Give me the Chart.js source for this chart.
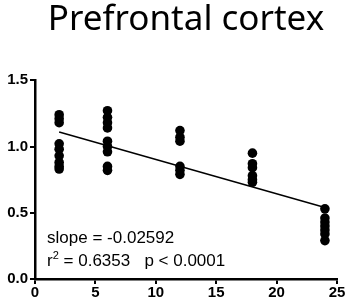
<!DOCTYPE html>
<html>
<head>
<meta charset="utf-8">
<script src="https://cdn.jsdelivr.net/npm/chart.js@4"></script>
<style>
  html, body { margin: 0; padding: 0; background: #fff; }
  #wrap { width: 347px; height: 307px; }
</style>
</head>
<body>
<div id="wrap"><canvas id="myChart" width="347" height="307"></canvas></div>
<script>
// Valores (horas x expressão relativa)
var hours = [2, 6, 12, 18, 24];
var values2h = [1.24, 1.21, 1.18, 1.02, 0.98, 0.93, 0.88, 0.85, 0.83];
var values6h = [1.27, 1.22, 1.18, 1.14, 1.04, 1.00, 0.96, 0.85, 0.82];
var values12h = [1.12, 1.07, 1.04, 0.85, 0.82, 0.79];
var values18h = [0.95, 0.87, 0.84, 0.78, 0.75, 0.73];
var values24h = [0.53, 0.46, 0.43, 0.40, 0.37, 0.34, 0.29];
var fitX = [2, 24];
var fitY = [1.11, 0.54];
var xTicks = [0, 5, 10, 15, 20, 25];
var yTicks = [0.0, 0.5, 1.0, 1.5];
var titleText = 'Prefrontal cortex';
var slopeText = 'slope = -0.02592';
var r2Text = ' = 0.6353   p < 0.0001';

var groups = [values2h, values6h, values12h, values18h, values24h];
var points = [];
for (var i = 0; i < hours.length; i++) {
  for (var j = 0; j < groups[i].length; j++) {
    points.push({ x: hours[i], y: groups[i][j] });
  }
}
var fitLine = [];
for (var k = 0; k < fitX.length; k++) {
  fitLine.push({ x: fitX[k], y: fitY[k] });
}

// Texto com slope / r2 dentro da área do gráfico
var statsText = {
  id: 'statsText',
  afterDatasetsDraw: function(chart) {
    var ctx = chart.ctx;
    var x0 = chart.scales.x.getPixelForValue(1);
    ctx.save();
    ctx.fillStyle = '#000';
    ctx.textBaseline = 'alphabetic';
    ctx.textAlign = 'left';
    ctx.font = '17px "Liberation Sans", Arial, sans-serif';
    ctx.fillText(slopeText, x0, 243);
    ctx.fillText('r', x0, 266);
    var rw = ctx.measureText('r').width;
    ctx.font = '11px "Liberation Sans", Arial, sans-serif';
    ctx.fillText('2', x0 + rw, 259);
    var sw = ctx.measureText('2').width;
    ctx.font = '17px "Liberation Sans", Arial, sans-serif';
    ctx.fillText(r2Text, x0 + rw + sw, 266);
    ctx.restore();
  }
};

var tickFont = { family: '"Liberation Sans", Arial, sans-serif', size: 15, weight: 'bold' };

var ctx = document.getElementById('myChart').getContext('2d');
new Chart(ctx, {
  type: 'scatter',
  data: {
    datasets: [{
      data: points,
      backgroundColor: '#000',
      borderWidth: 0,
      pointRadius: 4.8
    }, {
      type: 'line',
      data: fitLine,
      borderColor: '#000',
      borderWidth: 1.5,
      pointRadius: 0,
      fill: false
    }]
  },
  options: {
    responsive: false,
    animation: false,
    layout: { padding: { left: 0, right: 10, top: 0, bottom: 0 } },
    plugins: {
      legend: { display: false },
      tooltip: { enabled: false },
      title: {
        display: true,
        text: titleText,
        fullSize: false,
        color: '#000',
        font: { family: '"Noto Sans", sans-serif', size: 35, weight: 'normal', lineHeight: 1.15 },
        padding: { top: 0, bottom: 40 }
      }
    },
    scales: {
      x: {
        type: 'linear',
        min: 0,
        max: 25,
        afterBuildTicks: function(scale) {
          scale.ticks = xTicks.map(function(v) { return { value: v }; });
        },
        afterFit: function(scale) { scale.height = 28; },
        ticks: { font: tickFont, color: '#000', padding: 0, maxRotation: 0 },
        grid: { drawOnChartArea: false, drawTicks: true, tickLength: 5, color: '#000', lineWidth: 2 },
        border: { display: true, color: '#000', width: 2.5 }
      },
      y: {
        type: 'linear',
        min: 0,
        max: 1.5,
        afterBuildTicks: function(scale) {
          scale.ticks = yTicks.map(function(v) { return { value: v }; });
        },
        afterFit: function(scale) { scale.width = 35; },
        ticks: {
          font: tickFont,
          color: '#000',
          padding: 2,
          callback: function(v) { return v.toFixed(1); }
        },
        grid: { drawOnChartArea: false, drawTicks: true, tickLength: 5, color: '#000', lineWidth: 2 },
        border: { display: true, color: '#000', width: 2.5 }
      }
    }
  },
  plugins: [statsText]
});
</script>
</body>
</html>
